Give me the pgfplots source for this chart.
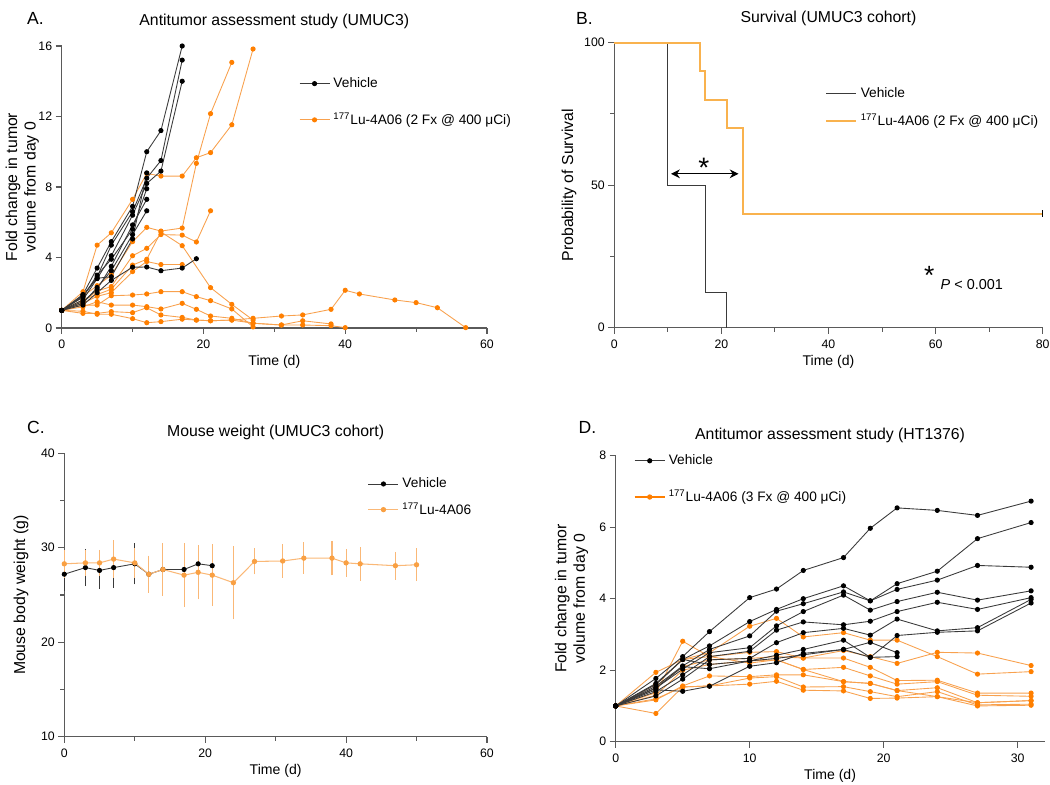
\documentclass[border=0pt]{standalone}
\usepackage{fontspec}
\setmainfont{Liberation Sans}
\usepackage{pgfplots}
\pgfplotsset{compat=1.18}
\usetikzlibrary{arrows.meta}

\definecolor{axgray}{HTML}{5A5A5A}
\definecolor{vehline}{HTML}{3A3A3A}
\definecolor{lumark}{HTML}{FF7F00}
\definecolor{luline}{HTML}{F8A14E}
\definecolor{survor}{HTML}{F9B24E}
\definecolor{wtline}{HTML}{FAB877}
\definecolor{wtmark}{HTML}{F9A043}

\pgfplotsset{
  panel/.style={
    scale only axis, anchor=south west, clip=false,
    axis x line*=bottom, axis y line*=left,
    axis line style={draw=axgray, line width=0.7pt},
    tick align=outside,
    major tick length=3.4pt, minor tick length=2.2pt,
    every tick/.style={draw=axgray, line width=0.6pt},
    tick label style={font=\fontsize{7}{8}\selectfont},
    yticklabel style={xshift=1.5pt},
    /pgf/number format/assume math mode=true,
    xlabel style={font=\fontsize{8}{9}\selectfont, yshift=3pt},
    ylabel style={font=\fontsize{9}{10.5}\selectfont, align=center, anchor=south},
    title style={font=\fontsize{9}{10}\selectfont, yshift=0pt},
    legend style={draw=none, fill=none, font=\fontsize{7.8}{9.5}\selectfont},
    legend cell align=left,
  },
  veh/.style={vehline, line width=0.5pt, mark=*, mark size=1.2pt,
    mark options={fill=black, draw=black}},
  lu/.style={luline, line width=0.5pt, mark=*, mark size=1.2pt,
    mark options={fill=lumark, draw=lumark}},
}

\begin{document}
\begin{tikzpicture}
\useasboundingbox (0,0) rectangle (21cm,15.7cm);

% panel letters
\node[anchor=west, font=\fontsize{10}{12}\selectfont] at (0.42cm,15.33cm) {A.};
\node[anchor=west, font=\fontsize{10}{12}\selectfont] at (11.4cm,15.33cm) {B.};
\node[anchor=west, font=\fontsize{10}{12}\selectfont] at (0.42cm,7.15cm) {C.};
\node[anchor=west, font=\fontsize{10}{12}\selectfont] at (11.45cm,7.15cm) {D.};

% ---------- A: tumour volume, UMUC3
\begin{axis}[panel,
  at={(1.234cm,9.14cm)}, width=8.506cm, height=5.64cm,
  xmin=0, xmax=60, ymin=0, ymax=16,
  xtick={0,20,40,60}, minor xtick={10,30,50},
  ytick={0,4,8,12,16},
  title={Antitumor assessment study (UMUC3)},
  xlabel={Time (d)},
  ylabel={Fold change in tumor\\volume from day 0},
  ylabel style={at={(axis description cs:-0.039,0.5)}},
  legend style={at={(0.545,0.915)}, anchor=north west, row sep=9pt},
]
\addlegendimage{veh}\addlegendentry{Vehicle}
\addlegendimage{lu}\addlegendentry{\textsuperscript{177}Lu-4A06 (2 Fx @ 400 μCi)}

% treated
\addplot[lu, forget plot] coordinates {(0,1)(3,2.06)(5,4.7)(7,5.4)(10,7.3)(12,8.77)(14,8.62)(17,8.62)(19,9.66)(21,9.95)(24,11.53)(27,15.83)};
\addplot[lu, forget plot] coordinates {(0,1)(3,1.8)(5,2.4)(7,3.0)(10,4.9)(12,5.71)(14,5.5)(17,5.67)(19,9.34)(21,12.16)(24,15.07)};
\addplot[lu, forget plot] coordinates {(0,1)(3,1.5)(5,2.1)(7,2.35)(10,4.1)(12,4.52)(14,5.3)(17,5.27)(19,4.88)(21,6.65)};
\addplot[lu, forget plot] coordinates {(0,1)(3,1.6)(5,1.9)(7,2.2)(10,3.57)(12,3.9)(14,5.45)(17,4.67)(21,2.29)(24,1.34)(27,0.45)};
\addplot[lu, forget plot] coordinates {(0,1)(3,1.4)(5,1.8)(7,2.0)(10,3.2)(12,3.77)(14,3.6)(17,3.6)};
\addplot[lu, forget plot] coordinates {(0,1)(3,1.3)(5,1.3)(7,1.83)(10,1.87)(12,1.93)(14,2.06)(17,2.06)(19,1.78)(21,1.55)(24,1.08)(27,0.06)};
\addplot[lu, forget plot] coordinates {(0,1)(3,1.2)(5,1.49)(7,1.3)(10,1.3)(12,1.21)(14,1.08)(17,1.4)(19,1.06)(21,0.68)(24,0.55)(27,0.27)(31,0.17)(34,0.17)(38,0.13)(40,0.02)};
\addplot[lu, forget plot] coordinates {(0,1)(3,0.83)(5,0.83)(7,0.93)(10,0.87)(12,1.15)(14,0.74)(17,0.6)(19,0.45)(21,0.41)(24,0.45)(27,0.55)(31,0.68)(34,0.74)(38,1.06)(40,2.14)(42,1.93)(47,1.59)(50,1.44)(53,1.15)(57,0.02)};
\addplot[lu, forget plot] coordinates {(0,1)(3,0.95)(5,0.78)(7,0.78)(10,0.53)(12,0.30)(14,0.36)(17,0.5)(19,0.45)(21,0.41)(24,0.45)(27,0.27)(31,0.17)(34,0.41)(38,0.23)};

% vehicle
\addplot[veh, forget plot] coordinates {(0,1)(3,1.9)(5,3.4)(7,4.9)(10,6.9)(12,10.0)(14,11.2)(17,16.0)};
\addplot[veh, forget plot] coordinates {(0,1)(3,1.8)(5,2.9)(7,4.7)(10,6.6)(12,8.5)(14,9.5)(17,15.2)};
\addplot[veh, forget plot] coordinates {(0,1)(3,1.6)(5,2.8)(7,4.1)(10,6.4)(12,8.2)(14,8.9)(17,14.0)};
\addplot[veh, forget plot] coordinates {(0,1)(3,1.5)(5,2.2)(7,3.5)(10,5.85)(12,7.3)};
\addplot[veh, forget plot] coordinates {(0,1)(3,1.4)(5,2.3)(7,3.25)(10,5.3)(12,6.65)};
\addplot[veh, forget plot] coordinates {(0,1)(3,1.3)(5,2.0)(7,2.7)(10,3.45)(12,3.46)(14,3.25)(17,3.4)(19,3.93)};
\addplot[veh, forget plot] coordinates {(0,1)(3,1.87)(5,2.82)(7,2.91)(10,5.05)(12,8.8)};
\addplot[veh, forget plot] coordinates {(0,1)(3,1.75)(5,3.0)(7,3.9)(10,5.6)(12,7.9)};
\end{axis}

% ---------- B: survival
\begin{axis}[panel,
  at={(12.286cm,9.146cm)}, width=8.568cm, height=5.70cm,
  xmin=0, xmax=80, ymin=0, ymax=100,
  xtick={0,20,40,60,80}, minor xtick={10,30,50,70},
  ytick={0,50,100}, minor ytick={25,75},
  title={Survival (UMUC3 cohort)},
  xlabel={Time (d)},
  ylabel={Probability of Survival},
  ylabel style={at={(axis description cs:-0.074,0.5)}},
  legend style={at={(0.48,0.87)}, anchor=north west, row sep=4pt},
]
\addplot[vehline, line width=0.6pt] coordinates {(0,100)(10,100)(10,50)(17,50)(17,12.5)(21,12.5)(21,0)};
\addlegendentry{Vehicle}
\addplot[survor, line width=1pt] coordinates {(0,100)(16,100)(16,90)(17,90)(17,80)(21,80)(21,70)(24,70)(24,40)(80,40)};
\addlegendentry{\textsuperscript{177}Lu-4A06 (2 Fx @ 400 μCi)}
\addplot[black, only marks, mark=|, mark size=2pt, line width=0.8pt, forget plot] coordinates {(80,40)};
\draw[{Stealth[length=5pt,width=5pt]}-{Stealth[length=5pt,width=5pt]}, line width=0.6pt]
  (axis cs:10.6,54) -- (axis cs:23.2,54);
\node[font=\fontsize{16}{16}\selectfont] at (axis cs:16.7,56) {*};
\node[font=\fontsize{15}{15}\selectfont] at (axis cs:58.8,18.5) {*};
\node[anchor=base west, font=\fontsize{8.2}{10}\selectfont] at (axis cs:59.8,13.5) {\textit{P} < 0.001};
\end{axis}

% ---------- C: body weight
\begin{axis}[panel,
  at={(1.286cm,0.966cm)}, width=8.454cm, height=5.668cm,
  xmin=0, xmax=60, ymin=10, ymax=40,
  xtick={0,20,40,60}, minor xtick={10,30,50},
  ytick={10,20,30,40}, minor ytick={15,25,35},
  title={Mouse weight (UMUC3 cohort)},
  title style={yshift=-2pt},
  xlabel={Time (d)},
  ylabel={Mouse body weight (g)},
  ylabel style={at={(axis description cs:-0.07,0.5)}},
  legend style={at={(0.705,0.94)}, anchor=north west, row sep=3pt},
]
\addplot[vehline, line width=0.5pt, mark=*, mark size=1.2pt, mark options={fill=black, draw=black},
  error bars/.cd, y dir=both, y explicit,
  error bar style={vehline, line width=0.5pt}, error mark options={vehline, mark size=2pt, line width=0.5pt}]
  coordinates {(0,27.2)+-(0,1.4) (3,27.9)+-(0,1.6) (5,27.6)+-(0,1.6) (7,27.9)+-(0,1.75) (10,28.3)+-(0,1.8)
    (12,27.2)+-(0,1.5) (14,27.7)+-(0,1.2) (17,27.7)+-(0,1.4) (19,28.3)+-(0,0) (21,28.1)+-(0,0)};
\addlegendentry{Vehicle}
\addplot[wtline, line width=0.6pt, mark=*, mark size=1.2pt, mark options={fill=wtmark, draw=wtmark},
  error bars/.cd, y dir=both, y explicit,
  error bar style={wtline, line width=0.6pt}, error mark options={wtline, mark size=2pt, line width=0.6pt}]
  coordinates {(0,28.3)+-(0,1.1) (3,28.4)+-(0,1.0) (5,28.4)+-(0,1.0) (7,28.8)+-(0,1.6) (10,28.4)+-(0,1.2)
    (12,27.2)+-(0,1.6) (14,27.7)+-(0,2.4) (17,27.1)+-(0,3.0) (19,27.4)+-(0,2.5) (21,27.1)+-(0,2.9)
    (24,26.3)+-(0,3.5) (27,28.55)+-(0,1.0) (31,28.6)+-(0,1.4) (34,28.9)+-(0,1.3) (38,28.9)+-(0,1.45)
    (40,28.4)+-(0,1.1) (42,28.3)+-(0,1.4) (47,28.1)+-(0,1.1) (50,28.2)+-(0,1.35)};
\addlegendentry{\textsuperscript{177}Lu-4A06}
\end{axis}

% ---------- D: tumour volume, HT1376
\begin{axis}[panel,
  at={(12.314cm,0.866cm)}, width=8.576cm, height=5.72cm,
  xmin=0, xmax=32, ymin=0, ymax=8,
  xtick={0,10,20,30},
  ytick={0,2,4,6,8},
  title={Antitumor assessment study (HT1376)},
  title style={yshift=-2pt},
  xlabel={Time (d)},
  ylabel={Fold change in tumor\\volume from day 0},
  ylabel style={at={(axis description cs:-0.05,0.5)}},
  legend style={at={(0.03,1.03)}, anchor=north west, row sep=9pt},
]
\addlegendimage{veh}\addlegendentry{Vehicle}
\addlegendimage{lu, line width=0.6pt, draw=lumark}\addlegendentry{\textsuperscript{177}Lu-4A06 (3 Fx @ 400 μCi)}

% treated
\addplot[lu, forget plot] coordinates {(0,1)(3,1.94)(5,2.3)(7,2.49)(10,3.23)(12,3.45)(14,2.93)(17,3.05)(19,2.84)(21,2.84)(24,2.38)(27,1.89)(31,1.96)};
\addplot[lu, forget plot] coordinates {(0,1)(3,1.37)(5,2.81)(7,2.38)(10,2.5)(12,2.52)(14,2.34)(17,2.55)(19,2.38)(21,2.19)(24,2.50)(27,2.48)(31,2.13)};
\addplot[lu, forget plot] coordinates {(0,1)(3,1.5)(5,2.1)(7,2.29)(10,2.33)(12,2.38)(14,2.34)(17,2.34)(19,2.08)(21,1.71)(24,1.72)(27,1.36)(31,1.36)};
\addplot[lu, forget plot] coordinates {(0,1)(3,1.3)(5,2.0)(7,2.16)(10,2.26)(12,2.29)(14,2.02)(17,2.08)(19,1.84)(21,1.61)(24,1.68)(27,1.30)(31,1.27)};
\addplot[lu, forget plot] coordinates {(0,1)(3,1.17)(5,1.56)(7,1.84)(10,1.82)(12,1.87)(14,1.87)(17,1.68)(19,1.63)(21,1.43)(24,1.51)(27,1.09)(31,1.15)};
\addplot[lu, forget plot] coordinates {(0,1)(3,0.79)(5,1.53)(7,1.56)(10,1.78)(12,1.82)(14,1.53)(17,1.54)(19,1.40)(21,1.26)(24,1.40)(27,1.03)(31,1.05)};
\addplot[lu, forget plot] coordinates {(0,1)(3,1.2)(5,1.53)(7,1.56)(10,1.61)(12,1.69)(14,1.44)(17,1.42)(19,1.21)(21,1.22)(24,1.26)(27,1.0)(31,1.02)};
\addplot[lu, forget plot] coordinates {(0,1)(3,1.6)(5,2.3)(7,2.38)(10,2.2)(12,2.29)(14,2.02)(17,1.68)(19,1.63)(21,1.43)(24,1.26)(27,1.09)(31,1.15)};

% vehicle
\addplot[veh, forget plot] coordinates {(0,1)(3,1.77)(5,2.38)(7,3.08)(10,4.03)(12,4.27)(14,4.79)(17,5.15)(19,5.97)(21,6.54)(24,6.47)(27,6.33)(31,6.73)};
\addplot[veh, forget plot] coordinates {(0,1)(3,1.63)(5,2.3)(7,2.68)(10,3.36)(12,3.70)(14,4.0)(17,4.36)(19,3.94)(21,4.42)(24,4.77)(27,5.68)(31,6.13)};
\addplot[veh, forget plot] coordinates {(0,1)(3,1.55)(5,2.12)(7,2.58)(10,2.96)(12,3.65)(14,3.86)(17,4.19)(19,3.94)(21,4.26)(24,4.52)(27,4.93)(31,4.88)};
\addplot[veh, forget plot] coordinates {(0,1)(3,1.5)(5,2.03)(7,2.49)(10,2.63)(12,3.24)(14,3.64)(17,4.10)(19,3.68)(21,3.92)(24,4.18)(27,3.96)(31,4.22)};
\addplot[veh, forget plot] coordinates {(0,1)(3,1.4)(5,1.87)(7,2.38)(10,2.53)(12,3.12)(14,3.35)(17,3.27)(19,3.37)(21,3.64)(24,3.90)(27,3.70)(31,4.03)};
\addplot[veh, forget plot] coordinates {(0,1)(3,1.28)(5,1.75)(7,2.29)(10,2.33)(12,2.77)(14,3.05)(17,3.17)(19,2.98)(21,3.43)(24,3.10)(27,3.19)(31,3.98)};
\addplot[veh, forget plot] coordinates {(0,1)(3,1.6)(5,2.3)(7,2.16)(10,2.26)(12,2.42)(14,2.58)(17,2.84)(19,2.36)(21,2.97)(24,3.06)(27,3.10)(31,3.88)};
\addplot[veh, forget plot] coordinates {(0,1)(3,1.45)(5,1.41)(7,1.55)(10,2.11)(12,2.21)(14,2.47)(17,2.58)(19,2.78)(21,2.49)};
\addplot[veh, forget plot] coordinates {(0,1)(3,1.5)(5,2.1)(7,2.04)(10,2.26)(12,2.33)(14,2.43)(17,2.58)(19,2.36)(21,2.38)};
\end{axis}
\end{tikzpicture}
\end{document}
